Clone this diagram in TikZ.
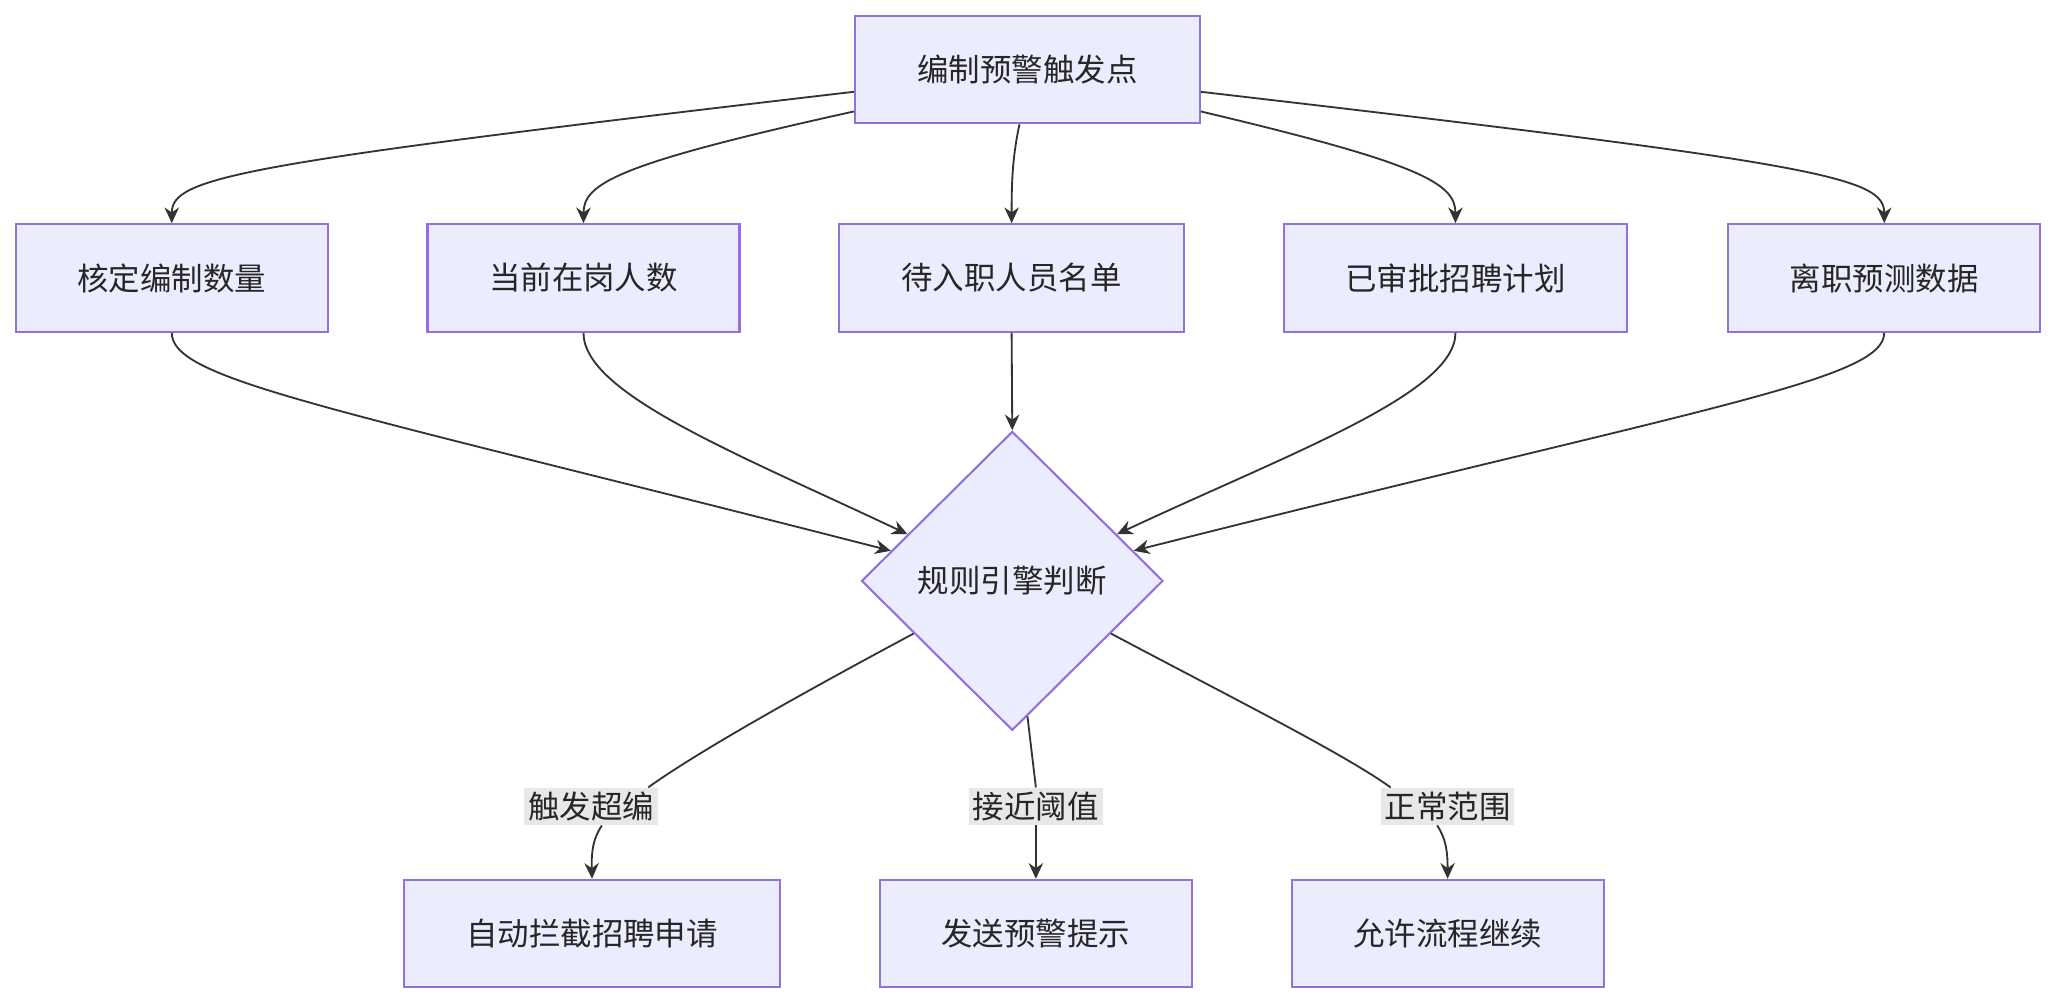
\documentclass[tikz,border=0pt]{standalone}
\usepackage{fontspec}
\setmainfont{Noto Sans CJK SC}
\usetikzlibrary{arrows.meta,shapes.geometric,calc}
\definecolor{boxfill}{HTML}{ECECFF}
\definecolor{boxline}{HTML}{9370DB}
\definecolor{edge}{HTML}{333333}
\definecolor{lblfill}{HTML}{E8E8E8}
\tikzset{
    %Define standard arrow tip
    >={Stealth[length=6pt,width=5.5pt]},
    %Define style for boxes
    process/.style={
	rectangle,
	draw=boxline, thick,
	fill=boxfill,
	minimum width=119pt,
	minimum height=41pt,
	font=\fontsize{12}{14}\selectfont,
	text=black!85,
	text centered
    },
    decide/.style={
	diamond,
	draw=boxline, thick,
	fill=boxfill,
	minimum width=115pt,
	minimum height=114pt,
	inner sep=0pt,
	font=\fontsize{12}{14}\selectfont,
	text=black!85
    },
    lbl/.style={
	rectangle,
	fill=lblfill,
	inner sep=1.5pt,
	font=\fontsize{12}{14}\selectfont,
	text=black!85
    },
    % Define arrow style
    pil/.style={
	->,
	draw=edge,
	line width=0.7pt}
}
\begin{document}
\begin{tikzpicture}[x=0.5pt,y=-0.5pt]
\useasboundingbox[fill=white] (0,0) rectangle (1568,766);
%nodes
\node[process, minimum width=131.5pt] (top) at (783.5,53) {编制预警触发点};
\node[process] (quota) at (131,212) {核定编制数量};
\node[process] (staff) at (445,212) {当前在岗人数};
\node[process, minimum width=131.5pt] (pending) at (771.5,212) {待入职人员名单};
\node[process, minimum width=131pt] (plan) at (1110,212) {已审批招聘计划};
\node[process] (leave) at (1437,212) {离职预测数据};
\node[decide] (rule) at (772,443) {规则引擎判断};
\node[process, minimum width=143.5pt] (block) at (451.5,712) {自动拦截招聘申请};
\node[process] (warn) at (790,712) {发送预警提示};
\node[process] (pass) at (1104,712) {允许流程继续};
\node[lbl] (l1) at (451,615) {触发超编};
\node[lbl] (l2) at (790,615) {接近阈值};
\node[lbl] (l3) at (1104,615) {正常范围};
%edges
\draw[pil] ([yshift=-8.5pt]top.west) .. controls (180,125) and (131,135) .. (quota.north);
\draw[pil] ([yshift=-16pt]top.west) .. controls (470,125) and (445,140) .. (staff.north);
\draw[pil] ([xshift=-3pt]top.south) .. controls (772,120) and (771.5,140) .. (pending.north);
\draw[pil] ([yshift=-16pt]top.east) .. controls (1085,125) and (1110,140) .. (plan.north);
\draw[pil] ([yshift=-8.5pt]top.east) .. controls (1390,125) and (1437,135) .. (leave.north);
\draw[pil] (quota.south) .. controls (131,290) and (250,310) .. ($(rule.west)!0.2!(rule.north)$);
\draw[pil] (staff.south) .. controls (445,300) and (560,345) .. ($(rule.west)!0.31!(rule.north)$);
\draw[pil] (pending.south) -- (rule.north);
\draw[pil] (plan.south) .. controls (1110,300) and (985,345) .. ($(rule.east)!0.31!(rule.north)$);
\draw[pil] (leave.south) .. controls (1437,290) and (1300,310) .. ($(rule.east)!0.2!(rule.north)$);
\draw[draw=edge,line width=0.7pt] ($(rule.west)!0.35!(rule.south)$) .. controls (600,535) and (530,575) .. ([xshift=-4pt]l1.north east);
\draw[pil] ([xshift=4pt]l1.south) .. controls (452,640) and (451,650) .. (block.north);
\draw[draw=edge,line width=0.7pt] ($(rule.south)!0.1!(rule.east)$) -- (l2.north);
\draw[pil] (l2.south) -- (warn.north);
\draw[draw=edge,line width=0.7pt] ($(rule.east)!0.35!(rule.south)$) .. controls (945,535) and (1025,575) .. ([xshift=4pt]l3.north west);
\draw[pil] ([xshift=-4pt]l3.south) .. controls (1103,640) and (1104,650) .. (pass.north);
\end{tikzpicture}
\end{document}
